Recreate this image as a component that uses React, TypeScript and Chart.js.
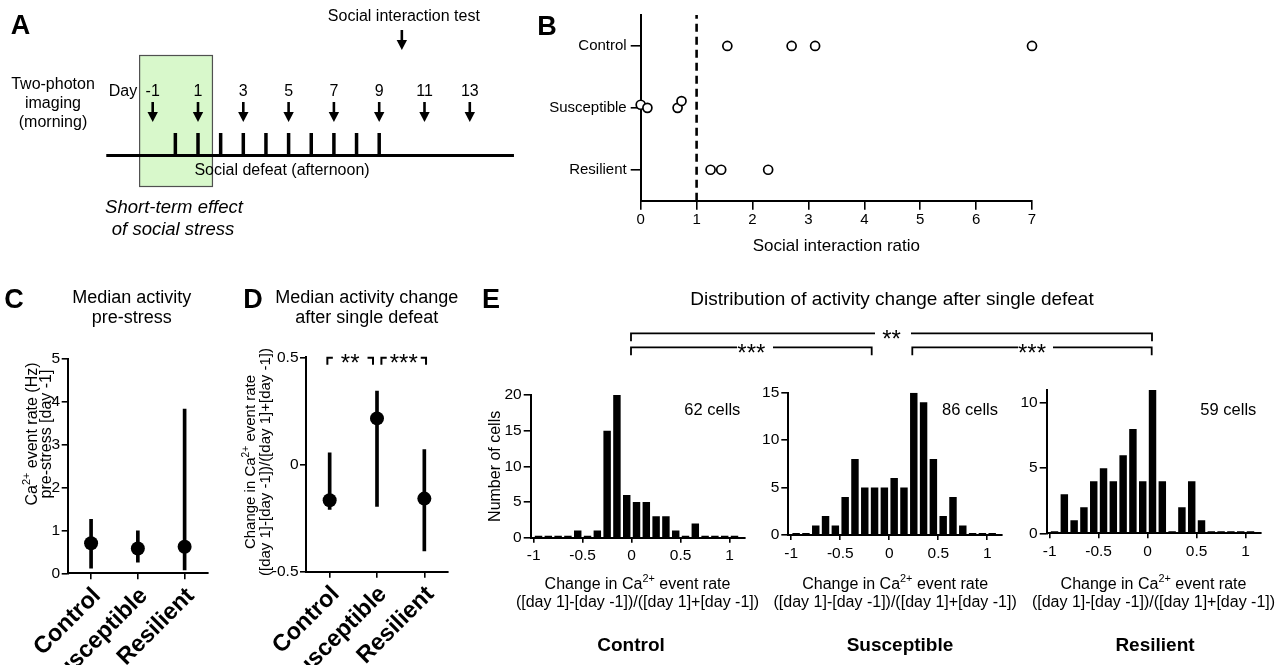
import React, { useEffect, useRef } from 'react';
import { Chart, registerables } from 'chart.js';

Chart.register(...registerables);

const FONT = '"Liberation Sans", Arial, Helvetica, sans-serif';
const INK = '#000000';

// ---------- Panel A: timeline schematic (x positions in days) ----------
const IMAGING_DAYS = [-1, 1, 3, 5, 7, 9, 11, 13];
const IMAGING_LABELS = ['-1', '1', '3', '5', '7', '9', '11', '13'];
const DEFEAT_DAYS = [0, 1, 2, 3, 4, 5, 6, 7, 8, 9];
const TEST_DAY = 10;
const TIMELINE_RANGE = [-3.05, 14.95];
const HIGHLIGHT_RANGE = [-1.6, 1.66];
const A_DAY_MIN = -7.742;
const A_DAY_MAX = 15.658;

// ---------- Panel B: social interaction ratio ----------
const B_GROUPS = ['Resilient', 'Susceptible', 'Control'];
const B_X_TICKS = [0, 1, 2, 3, 4, 5, 6, 7];
const B_ROW_TICKS = [0, 1, 2];
const B_CONTROL_RATIO = [1.55, 2.7, 3.12, 7.0];
const B_CONTROL_ROW = [2, 2, 2, 2];
const B_SUSCEPTIBLE_RATIO = [0.0, 0.12, 0.66, 0.73];
const B_SUSCEPTIBLE_ROW = [1.05, 1.0, 1.0, 1.11];
const B_RESILIENT_RATIO = [1.25, 1.44, 2.28];
const B_RESILIENT_ROW = [0, 0, 0];
const B_THRESHOLD = 1;

// ---------- Panels C & D: medians with ranges ----------
const GROUPS = ['Control', 'Susceptible', 'Resilient'];
const C_MEDIAN = [0.7, 0.58, 0.62];
const C_LOW = [0.12, 0.26, 0.08];
const C_HIGH = [1.26, 0.99, 3.83];
const C_TICKS = [0, 1, 2, 3, 4, 5];
const D_MEDIAN = [-0.167, 0.215, -0.159];
const D_LOW = [-0.21, -0.195, -0.403];
const D_HIGH = [0.054, 0.342, 0.07];
const D_TICKS = [-0.5, 0, 0.5];
const D_SIG_FROM = [0, 1];
const D_SIG_TO = [1, 2];
const D_SIG_LABEL = ['**', '***'];

// ---------- Panel E: histograms ----------
const BIN_CENTERS = [-0.95, -0.85, -0.75, -0.65, -0.55, -0.45, -0.35, -0.25, -0.15, -0.05, 0.05, 0.15, 0.25, 0.35, 0.45, 0.55, 0.65, 0.75, 0.85, 0.95, 1.05];
const E_CONTROL = [0, 0, 0, 0, 1, 0, 1, 15, 20, 6, 5, 5, 3, 3, 1, 0, 2, 0, 0, 0, 0];
const E_SUSCEPTIBLE = [0, 0, 1, 2, 1, 4, 8, 5, 5, 5, 6, 5, 15, 14, 8, 2, 4, 1, 0, 0, 0];
const E_RESILIENT = [0, 3, 1, 2, 4, 5, 4, 6, 8, 4, 11, 4, 0, 2, 4, 1, 0, 0, 0, 0, 0];
const E_X_TICKS = [-1, -0.5, 0, 0.5, 1];
const E_X_TICK_LABELS = ['-1', '-0.5', '0', '0.5', '1'];
const E_CONTROL_Y_TICKS = [0, 5, 10, 15, 20];
const E_SUSCEPTIBLE_Y_TICKS = [0, 5, 10, 15];
const E_RESILIENT_Y_TICKS = [0, 5, 10];
const E_CELL_COUNTS = ['62 cells', '86 cells', '59 cells'];
const E_NAMES = ['Control', 'Susceptible', 'Resilient'];

// rich text pieces: [text, isSuperscript]
type Seg = [string, boolean];
const CA_CHANGE: Seg[] = [['Change in Ca', false], ['2+', true], [' event rate', false]];
const CA_RATE: Seg[] = [['Ca', false], ['2+', true], [' event rate (Hz)', false]];
const RATIO_LINE: Seg[] = [['([day 1]-[day -1])/([day 1]+[day -1])', false]];
const PRE_STRESS: Seg[] = [['pre-stress [day -1]', false]];

const noInteraction = {
  animation: false as const,
  responsive: false,
  events: [] as any[],
};
const noLegend = { legend: { display: false }, tooltip: { enabled: false } };

function axisBase(tickLength: number, size: number, pad: number, extraTicks: any = {}) {
  return {
    grid: { display: true, drawOnChartArea: false, drawTicks: true, tickLength, color: INK, lineWidth: 1.6, offset: false },
    border: { display: true, color: INK, width: 2 },
    ticks: { color: INK, font: { family: FONT, size }, padding: pad, ...extraTicks },
  };
}

// draws a line of text with superscripts, centred at (0,0) of current transform
function drawRich(ctx: CanvasRenderingContext2D, segs: Seg[], size: number) {
  const sup = size * 0.68;
  const widths = segs.map(([t, s]) => {
    ctx.font = `${s ? sup : size}px ${FONT}`;
    return ctx.measureText(t).width;
  });
  const total = widths.reduce((a, b) => a + b, 0);
  let x = -total / 2;
  const base = size * 0.36;
  ctx.textAlign = 'left';
  ctx.textBaseline = 'alphabetic';
  segs.forEach(([t, s], i) => {
    ctx.font = `${s ? sup : size}px ${FONT}`;
    ctx.fillText(t, x, s ? base - size * 0.42 : base);
    x += widths[i];
  });
}

// ---------- plugins ----------
function drawArrow(ctx: CanvasRenderingContext2D, x: number, y0: number, y1: number) {
  ctx.lineWidth = 2.6;
  ctx.beginPath();
  ctx.moveTo(x, y0);
  ctx.lineTo(x, y1 - 8);
  ctx.stroke();
  ctx.beginPath();
  ctx.moveTo(x - 5.2, y1 - 10);
  ctx.lineTo(x + 5.2, y1 - 10);
  ctx.lineTo(x, y1);
  ctx.closePath();
  ctx.fill();
}

const panelAPlugin = {
  id: 'panelA',
  afterDraw(chart: any) {
    const ctx: CanvasRenderingContext2D = chart.ctx;
    const X = (d: number) => chart.scales.x.getPixelForValue(d);
    ctx.save();
    const hx0 = X(HIGHLIGHT_RANGE[0]);
    const hx1 = X(HIGHLIGHT_RANGE[1]);
    ctx.fillStyle = '#d8f8cb';
    ctx.fillRect(hx0, 55, hx1 - hx0, 132);
    ctx.strokeStyle = '#505050';
    ctx.lineWidth = 1.2;
    ctx.strokeRect(hx0 + 0.5, 55.5, hx1 - hx0 - 1, 131);

    ctx.strokeStyle = INK;
    ctx.fillStyle = INK;
    ctx.lineWidth = 3;
    ctx.beginPath();
    ctx.moveTo(X(TIMELINE_RANGE[0]), 155.5);
    ctx.lineTo(X(TIMELINE_RANGE[1]), 155.5);
    ctx.stroke();

    ctx.lineWidth = 3.5;
    DEFEAT_DAYS.forEach((d) => {
      ctx.beginPath();
      ctx.moveTo(X(d), 133);
      ctx.lineTo(X(d), 155);
      ctx.stroke();
    });

    IMAGING_DAYS.forEach((d) => drawArrow(ctx, X(d), 102, 122));
    drawArrow(ctx, X(TEST_DAY), 30, 50);

    ctx.font = `16px ${FONT}`;
    ctx.textAlign = 'center';
    ctx.textBaseline = 'middle';
    IMAGING_LABELS.forEach((t, i) => ctx.fillText(t, X(IMAGING_DAYS[i]), 92));
    ctx.textAlign = 'right';
    ctx.fillText('Day', X(IMAGING_DAYS[0]) - 15.5, 92);
    ctx.textAlign = 'center';
    ctx.fillText('Social interaction test', X(TEST_DAY) + 2, 17);
    ['Two-photon', 'imaging', '(morning)'].forEach((t, i) => ctx.fillText(t, 53, 85 + i * 19));
    ctx.fillText('Social defeat (afternoon)', 282, 171);
    ctx.font = `italic 18.5px ${FONT}`;
    ctx.fillText('Short-term effect', 174, 208);
    ctx.fillText('of social stress', 173, 230);
    ctx.restore();
  },
};

function yTitlePlugin(lines: Seg[][], xs: number[], cy: number, size: number) {
  return {
    id: 'yTitle',
    afterDraw(chart: any) {
      const ctx: CanvasRenderingContext2D = chart.ctx;
      ctx.save();
      ctx.fillStyle = INK;
      lines.forEach((segs, i) => {
        ctx.save();
        ctx.translate(xs[i], cy);
        ctx.rotate(-Math.PI / 2);
        drawRich(ctx, segs, size);
        ctx.restore();
      });
      ctx.restore();
    },
  };
}

function xTitlePlugin(lines: Seg[][], ys: number[], size: number) {
  return {
    id: 'xTitle',
    afterDraw(chart: any) {
      const ctx: CanvasRenderingContext2D = chart.ctx;
      const cx = (chart.chartArea.left + chart.chartArea.right) / 2;
      ctx.save();
      ctx.fillStyle = INK;
      lines.forEach((segs, i) => {
        ctx.save();
        ctx.translate(cx, ys[i]);
        drawRich(ctx, segs, size);
        ctx.restore();
      });
      ctx.restore();
    },
  };
}

const dBracketPlugin = {
  id: 'dBrackets',
  afterDraw(chart: any) {
    const ctx: CanvasRenderingContext2D = chart.ctx;
    const xs = chart.scales.x;
    const ys = chart.scales.y;
    const yLine = ys.getPixelForValue(D_TICKS[D_TICKS.length - 1]) + 0.5;
    const insets = [[-2.3, -4], [4.4, 1.7]];
    const gaps = [8, 3];
    ctx.save();
    ctx.strokeStyle = INK;
    ctx.fillStyle = INK;
    ctx.lineWidth = 2;
    ctx.font = `24px ${FONT}`;
    ctx.textAlign = 'center';
    ctx.textBaseline = 'alphabetic';
    D_SIG_FROM.forEach((a, i) => {
      const x0 = xs.getPixelForValue(a) + insets[i][0];
      const x1 = xs.getPixelForValue(D_SIG_TO[i]) + insets[i][1];
      const cx = (x0 + x1) / 2;
      const tw = ctx.measureText(D_SIG_LABEL[i]).width;
      ctx.beginPath();
      ctx.moveTo(x0, yLine + 7);
      ctx.lineTo(x0, yLine);
      ctx.lineTo(cx - tw / 2 - gaps[i], yLine);
      ctx.moveTo(cx + tw / 2 + gaps[i], yLine);
      ctx.lineTo(x1, yLine);
      ctx.lineTo(x1, yLine + 7);
      ctx.stroke();
      ctx.fillText(D_SIG_LABEL[i], cx, yLine + 13.5);
    });
    ctx.restore();
  },
};

function cellsPlugin(text: string) {
  return {
    id: 'cells',
    afterDraw(chart: any) {
      const ctx: CanvasRenderingContext2D = chart.ctx;
      ctx.save();
      ctx.fillStyle = INK;
      ctx.font = `16.5px ${FONT}`;
      ctx.textAlign = 'right';
      ctx.textBaseline = 'middle';
      ctx.fillText(text, chart.chartArea.right - 4, 40);
      ctx.restore();
    },
  };
}

// ---------- configs ----------
const cfgA: any = {
  type: 'scatter',
  data: { datasets: [] },
  options: {
    ...noInteraction,
    layout: { padding: 0 },
    plugins: noLegend,
    scales: {
      x: { type: 'linear', min: A_DAY_MIN, max: A_DAY_MAX, display: false },
      y: { type: 'linear', min: 0, max: 1, display: false },
    },
  },
  plugins: [panelAPlugin],
};

const openCircle = {
  pointRadius: 4.5,
  pointHoverRadius: 4.5,
  pointBorderWidth: 1.7,
  pointBorderColor: INK,
  pointBackgroundColor: '#ffffff',
  showLine: false,
  clip: false,
};

const cfgB: any = {
  type: 'scatter',
  data: {
    datasets: [
      { ...openCircle, data: B_CONTROL_RATIO.map((x, i) => ({ x, y: B_CONTROL_ROW[i] })) },
      { ...openCircle, data: B_SUSCEPTIBLE_RATIO.map((x, i) => ({ x, y: B_SUSCEPTIBLE_ROW[i] })) },
      { ...openCircle, data: B_RESILIENT_RATIO.map((x, i) => ({ x, y: B_RESILIENT_ROW[i] })) },
      {
        type: 'line',
        data: [{ x: B_THRESHOLD, y: -0.5 }, { x: B_THRESHOLD, y: 2.5 }],
        borderColor: INK,
        borderWidth: 2.6,
        borderDash: [8, 5],
        pointRadius: 0,
        showLine: true,
      },
    ],
  },
  options: {
    ...noInteraction,
    layout: { padding: { top: 15, right: 18, left: 0, bottom: 0 } },
    plugins: noLegend,
    scales: {
      x: {
        type: 'linear',
        min: 0,
        max: 7,
        afterBuildTicks: (s: any) => { s.ticks = B_X_TICKS.map((v) => ({ value: v })); },
        ...axisBase(9, 15, 1.3),
        title: { display: true, text: 'Social interaction ratio', color: INK, font: { family: FONT, size: 17 }, padding: { top: 0, bottom: 5 } },
        afterFit: (s: any) => { s.height = 61.3; },
      },
      y: {
        type: 'linear',
        min: -0.5,
        max: 2.5,
        afterBuildTicks: (s: any) => { s.ticks = B_ROW_TICKS.map((v) => ({ value: v })); },
        ...axisBase(10, 15, 4, { callback: (v: number) => B_GROUPS[v] }),
        afterFit: (s: any) => { s.width = 100.7; },
      },
    },
  },
};

function rangeConfig(median: number[], low: number[], high: number[], yMin: number, yMax: number, yTicks: number[], o: any, extraPlugins: any[]): any {
  return {
    type: 'bar',
    data: {
      labels: GROUPS,
      datasets: [
        {
          type: 'line',
          data: median,
          showLine: false,
          pointRadius: 7,
          pointHoverRadius: 7,
          pointBackgroundColor: INK,
          pointBorderColor: INK,
          pointBorderWidth: 0,
          order: 0,
          clip: false,
        },
        {
          type: 'bar',
          data: low.map((l, i) => [l, high[i]]),
          backgroundColor: INK,
          barThickness: 3,
          borderWidth: 0,
          order: 1,
        },
      ],
    },
    options: {
      ...noInteraction,
      layout: { padding: { top: o.padTop, right: o.padRight, left: 0, bottom: 0 } },
      plugins: noLegend,
      scales: {
        x: {
          type: 'category',
          offset: true,
          grid: { display: true, drawOnChartArea: false, drawTicks: true, tickLength: 6, color: INK, lineWidth: 1.6, offset: false },
          border: { display: true, color: INK, width: 2 },
          ticks: { color: INK, font: { family: FONT, size: 23.5, weight: 'bold' }, padding: 3, labelOffset: 6, minRotation: 45, maxRotation: 45, autoSkip: false },
          afterFit: (s: any) => { s.height = o.xHeight; },
        },
        y: {
          type: 'linear',
          min: yMin,
          max: yMax,
          afterBuildTicks: (s: any) => { s.ticks = yTicks.map((v) => ({ value: v })); },
          ...axisBase(6, 15.5, 1.5),
          afterFit: (s: any) => { s.width = o.yWidth; },
        },
      },
    },
    plugins: extraPlugins,
  };
}

const cfgC = rangeConfig(C_MEDIAN, C_LOW, C_HIGH, 0, 5, C_TICKS,
  { padTop: 19, padRight: 5, xHeight: 91.7, yWidth: 67.7 },
  [yTitlePlugin([CA_RATE, PRE_STRESS], [31, 45], 94, 16)]);

const cfgD = rangeConfig(D_MEDIAN, D_LOW, D_HIGH, -0.5, 0.5, D_TICKS,
  { padTop: 17.3, padRight: 6.7, xHeight: 93.3, yWidth: 76 },
  [yTitlePlugin([CA_CHANGE, RATIO_LINE], [20, 35], 122, 15), dBracketPlugin]);

function histConfig(counts: number[], yMax: number, yTicks: number[], cells: string, o: any, withYTitle: boolean): any {
  return {
    type: 'bar',
    data: {
      datasets: [
        {
          data: BIN_CENTERS.map((x, i) => ({ x, y: counts[i] })),
          backgroundColor: INK,
          borderWidth: 0,
          barPercentage: 0.76,
          categoryPercentage: 1,
          minBarLength: 2,
        },
      ],
    },
    options: {
      ...noInteraction,
      layout: { padding: { top: o.padTop, right: o.padRight, left: 0, bottom: 0 } },
      plugins: noLegend,
      scales: {
        x: {
          type: 'linear',
          min: -1.03,
          max: 1.15,
          offset: false,
          afterBuildTicks: (s: any) => { s.ticks = E_X_TICKS.map((v) => ({ value: v })); },
          ...axisBase(5, 15.5, 4, { callback: (_v: number, i: number) => E_X_TICK_LABELS[i] }),
          afterFit: (s: any) => { s.height = o.xHeight; },
        },
        y: {
          type: 'linear',
          min: 0,
          max: yMax,
          afterBuildTicks: (s: any) => { s.ticks = yTicks.map((v) => ({ value: v })); },
          ...axisBase(7, 15.5, 2),
          title: { display: withYTitle, text: 'Number of cells', color: INK, font: { family: FONT, size: 16 }, padding: { top: 6.4, bottom: 0 } },
          afterFit: (s: any) => { s.width = o.yWidth; },
        },
      },
    },
    plugins: [cellsPlugin(cells), xTitlePlugin([CA_CHANGE, RATIO_LINE], [213.3, 231.7], 16)],
  };
}

// the two left histogram canvases are 10px wider than their plot (room for the wide axis titles)
const cfgE1 = histConfig(E_CONTROL, 20, E_CONTROL_Y_TICKS, E_CELL_COUNTS[0], { padTop: 25, padRight: 15.7, xHeight: 82.3, yWidth: 50.7 }, true);
const cfgE2 = histConfig(E_SUSCEPTIBLE, 15, E_SUSCEPTIBLE_Y_TICKS, E_CELL_COUNTS[1], { padTop: 22.7, padRight: 18, xHeight: 85, yWidth: 48.3 }, false);
const cfgE3 = histConfig(E_RESILIENT, 11, E_RESILIENT_Y_TICKS, E_CELL_COUNTS[2], { padTop: 20, padRight: 20.7, xHeight: 86.7, yWidth: 46.7 }, false);

const CANVASES = [
  { left: 0, top: 0, w: 530, h: 250, cfg: cfgA },
  { left: 540, top: 0, w: 510, h: 262, cfg: cfgB },
  { left: 0, top: 340, w: 215, h: 325, cfg: cfgC },
  { left: 230, top: 340, w: 225, h: 325, cfg: cfgD },
  { left: 480, top: 370, w: 280, h: 250, cfg: cfgE1 },
  { left: 740, top: 370, w: 280, h: 250, cfg: cfgE2 },
  { left: 1000, top: 370, w: 281, h: 250, cfg: cfgE3 },
];

function Txt(props: { x: number; y: number; size: number; bold?: boolean; italic?: boolean; children: any; lh?: number }) {
  return (
    <div
      style={{
        position: 'absolute',
        left: props.x,
        top: props.y,
        transform: 'translate(-50%, -50%)',
        whiteSpace: 'nowrap',
        textAlign: 'center',
        fontFamily: FONT,
        fontSize: props.size,
        fontWeight: props.bold ? 700 : 400,
        fontStyle: props.italic ? 'italic' : 'normal',
        lineHeight: props.lh ? `${props.lh}px` : 1,
        color: INK,
      }}
    >
      {props.children}
    </div>
  );
}

function Bracket(props: { x0: number; x1: number; y: number; label: string; gapL: number; gapR: number }) {
  const { x0, x1, y, label, gapL, gapR } = props;
  const cx = (x0 + x1) / 2;
  return (
    <g>
      <path d={`M${x0},${y + 8} L${x0},${y} L${gapL},${y} M${gapR},${y} L${x1},${y} L${x1},${y + 8}`} fill="none" stroke={INK} strokeWidth={1.8} />
      <text x={cx} y={y + 13.5} textAnchor="middle" fontFamily={FONT} fontSize={24} fill={INK}>{label}</text>
    </g>
  );
}

export default function App() {
  const canvasRefs = useRef<(HTMLCanvasElement | null)[]>([]);

  useEffect(() => {
    Chart.defaults.font.family = FONT;
    Chart.defaults.color = INK;
    const charts = CANVASES.map((c, i) => new Chart(canvasRefs.current[i] as HTMLCanvasElement, c.cfg));
    return () => charts.forEach((ch) => ch.destroy());
  }, []);

  return (
    <div style={{ position: 'fixed', left: 0, top: 0, width: 1281, height: 665, background: '#ffffff', overflow: 'hidden' }}>
      {CANVASES.map((c, i) => (
        <canvas
          key={i}
          ref={(el) => { canvasRefs.current[i] = el; }}
          width={c.w}
          height={c.h}
          style={{ position: 'absolute', left: c.left, top: c.top, width: c.w, height: c.h }}
        />
      ))}

      <svg width={1281} height={665} style={{ position: 'absolute', left: 0, top: 0, pointerEvents: 'none' }}>
        <Bracket x0={631} x1={1152} y={333.3} label="**" gapL={875} gapR={911} />
        <Bracket x0={631} x1={871.7} y={347.3} label="***" gapL={737} gapR={773} />
        <Bracket x0={912.3} x1={1151.7} y={347.3} label="***" gapL={1018} gapR={1053} />
      </svg>

      <Txt x={20.5} y={24.5} size={27} bold>A</Txt>
      <Txt x={547} y={26} size={27} bold>B</Txt>
      <Txt x={14} y={299} size={27} bold>C</Txt>
      <Txt x={253} y={299} size={27} bold>D</Txt>
      <Txt x={491} y={299} size={27} bold>E</Txt>

      <Txt x={131.7} y={306.7} size={18} lh={20}>Median activity<br />pre-stress</Txt>
      <Txt x={366.7} y={306.7} size={18} lh={20}>Median activity change<br />after single defeat</Txt>
      <Txt x={892} y={298} size={19}>Distribution of activity change after single defeat</Txt>

      <Txt x={631} y={644} size={19} bold>{E_NAMES[0]}</Txt>
      <Txt x={900} y={644} size={19} bold>{E_NAMES[1]}</Txt>
      <Txt x={1155} y={644} size={19} bold>{E_NAMES[2]}</Txt>
    </div>
  );
}
